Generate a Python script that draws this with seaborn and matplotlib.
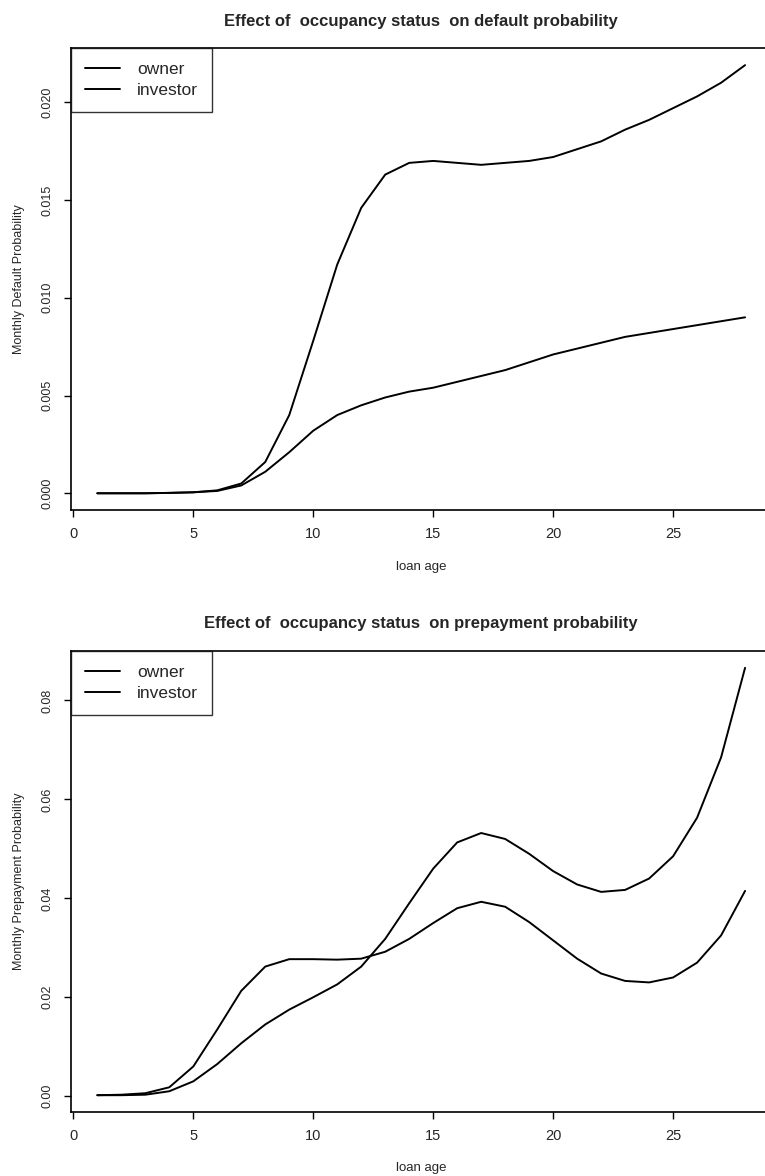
import numpy as np
import pandas as pd
import matplotlib
matplotlib.use("Agg")
import matplotlib.pyplot as plt
import seaborn as sns

loan_age = list(range(1, 29))

default_investor = [0.0, 0.0, 0.0, 0.00002, 0.00005, 0.00015, 0.0005, 0.0016, 0.0040, 0.0078,
                    0.0117, 0.0146, 0.0163, 0.0169, 0.0170, 0.0169, 0.0168, 0.0169, 0.0170, 0.0172,
                    0.0176, 0.0180, 0.0186, 0.0191, 0.0197, 0.0203, 0.0210, 0.0219]
default_owner = [0.0, 0.0, 0.0, 0.00002, 0.00005, 0.00012, 0.0004, 0.0011, 0.0021, 0.0032,
                 0.0040, 0.0045, 0.0049, 0.0052, 0.0054, 0.0057, 0.0060, 0.0063, 0.0067, 0.0071,
                 0.0074, 0.0077, 0.0080, 0.0082, 0.0084, 0.0086, 0.0088, 0.0090]

prepay_owner = [0.0002, 0.0002, 0.0003, 0.0010, 0.0030, 0.0065, 0.0107, 0.0145, 0.0175, 0.0200,
                0.0226, 0.0262, 0.0318, 0.0390, 0.0460, 0.0513, 0.0532, 0.0520, 0.0490, 0.0455,
                0.0428, 0.0413, 0.0417, 0.0440, 0.0485, 0.0563, 0.0685, 0.0866]
prepay_investor = [0.0002, 0.0003, 0.0006, 0.0018, 0.0060, 0.0135, 0.0213, 0.0262, 0.0277, 0.0277,
                   0.0276, 0.0278, 0.0292, 0.0318, 0.0350, 0.0380, 0.0393, 0.0383, 0.0352, 0.0315,
                   0.0278, 0.0248, 0.0233, 0.0230, 0.0240, 0.0270, 0.0325, 0.0415]

series_names = ["owner", "investor"]
titles = ["Effect of  occupancy status  on default probability",
          "Effect of  occupancy status  on prepayment probability"]
ylabels = ["Monthly Default Probability", "Monthly Prepayment Probability"]
xticks = [0, 5, 10, 15, 20, 25]
yticks_default = [0.000, 0.005, 0.010, 0.015, 0.020]
ytick_labels_default = ["0.000", "0.005", "0.010", "0.015", "0.020"]
yticks_prepay = [0.00, 0.02, 0.04, 0.06, 0.08]
ytick_labels_prepay = ["0.00", "0.02", "0.04", "0.06", "0.08"]

sns.set_style("white")
plt.rcParams['font.family'] = ['Liberation Sans', 'DejaVu Sans']

W, H = 765, 1176
fig = plt.figure(figsize=(W / 100, H / 100), dpi=100)

def frac(l, t, r, b):
    return [l / W, 1 - b / H, (r - l) / W, (b - t) / H]

ax1 = fig.add_axes(frac(71.4, 48, 771, 510.4))
ax2 = fig.add_axes(frac(71.4, 650.7, 771, 1112.3))

def draw(ax, owner, investor, title, ylabel, yticks, yticklabels):
    df = pd.DataFrame({
        "loan age": loan_age * 2,
        "p": owner + investor,
        "status": ["owner"] * len(loan_age) + ["investor"] * len(loan_age),
    })
    sns.lineplot(data=df, x="loan age", y="p", hue="status", hue_order=series_names,
                 palette=["black", "black"], linewidth=1.4, ax=ax, legend=True)
    allv = owner + investor
    lo, hi = min(allv), max(allv)
    d = hi - lo
    ax.set_ylim(lo - 0.04 * d, hi + 0.04 * d)
    ax.set_xlim(1 - 0.04 * 27, 28 + 0.04 * 27)
    ax.set_xticks(xticks)
    ax.set_xticklabels([str(v) for v in xticks], fontsize=10.5)
    ax.set_yticks(yticks)
    ax.set_yticklabels(yticklabels, rotation=90, va="center", fontsize=9)
    ax.tick_params(axis="both", direction="out", length=5, width=1, color="black",
                   bottom=True, left=True)
    ax.tick_params(axis="x", pad=7)
    ax.tick_params(axis="y", pad=8)
    for s in ax.spines.values():
        s.set_color("black")
        s.set_linewidth(1.2)
        s.set_visible(True)
    ax.set_xlabel("loan age", fontsize=9.5, labelpad=14)
    ax.set_ylabel(ylabel, fontsize=9, labelpad=12)
    ax.set_title(title, fontsize=12, fontweight="bold", pad=16)
    leg = ax.legend(loc="upper left", borderaxespad=0, fancybox=False, frameon=True,
                    edgecolor="black", fontsize=12.5, handlelength=2.0, handletextpad=1.0,
                    borderpad=0.8, labelspacing=0.35)
    leg.get_frame().set_linewidth(1.0)
    leg.set_title(None)

draw(ax1, default_owner, default_investor, titles[0], ylabels[0], yticks_default, ytick_labels_default)
draw(ax2, prepay_owner, prepay_investor, titles[1], ylabels[1], yticks_prepay, ytick_labels_prepay)

fig.savefig("out.png", dpi=100)
